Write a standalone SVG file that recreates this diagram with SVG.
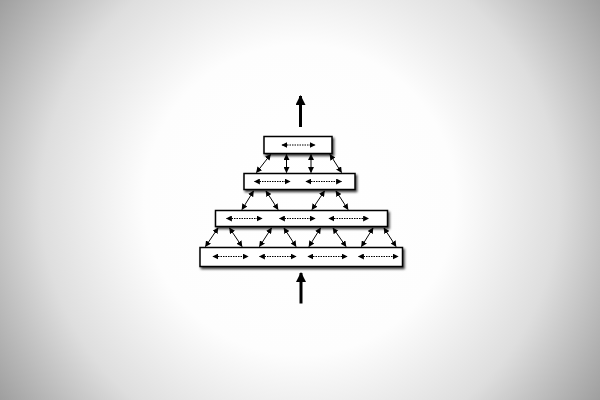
<svg xmlns="http://www.w3.org/2000/svg" width="600" height="400" viewBox="0 0 600 400">
<defs>
<radialGradient id="bg" gradientUnits="userSpaceOnUse" cx="300" cy="200" r="370">
<stop offset="0" stop-color="#ffffff"/>
<stop offset="0.42" stop-color="#fdfdfd"/>
<stop offset="0.7" stop-color="#dedede"/>
<stop offset="1" stop-color="#999999"/>
</radialGradient>
<filter id="sh" x="-10%" y="-40%" width="125%" height="200%">
<feDropShadow dx="1.5" dy="2" stdDeviation="1.3" flood-color="#000" flood-opacity="0.75"/>
</filter>
<marker id="ah" viewBox="0 0 10 10" refX="9" refY="5" markerWidth="6" markerHeight="6" orient="auto-start-reverse" markerUnits="userSpaceOnUse">
<path d="M0,0 L10,5 L0,10 Z" fill="#000"/>
</marker>
<marker id="big" viewBox="0 0 10 10" refX="9" refY="5" markerWidth="10" markerHeight="10" orient="auto" markerUnits="userSpaceOnUse">
<path d="M0,0 L10,5 L0,10 Z" fill="#000"/>
</marker>
</defs>
<style>
.box{fill:#fff;stroke:#000;stroke-width:1.5;filter:url(#sh)}
.dot{stroke:#000;stroke-width:1;stroke-dasharray:1.5,1;fill:none;marker-start:url(#ah);marker-end:url(#ah)}
.c{stroke:#000;stroke-width:1;fill:none;marker-start:url(#ah);marker-end:url(#ah)}
.big{stroke:#000;stroke-width:3;fill:none;marker-end:url(#big)}
</style>
<rect width="600" height="400" fill="url(#bg)"/>

<g id="box1">
<rect class="box" x="264" y="136.5" width="68" height="17"/>
<line class="dot" x1="282" y1="145" x2="315" y2="145"/>
</g>
<g id="box2">
<rect class="box" x="244" y="173.5" width="111" height="16"/>
<line class="dot" x1="254.5" y1="181.5" x2="290" y2="181.5"/>
<line class="dot" x1="306" y1="181.5" x2="341.5" y2="181.5"/>
</g>
<g id="box3">
<rect class="box" x="215.5" y="210.5" width="172" height="16"/>
<line class="dot" x1="226.5" y1="218.5" x2="262" y2="218.5"/>
<line class="dot" x1="279.5" y1="218.5" x2="315" y2="218.5"/>
<line class="dot" x1="329" y1="218.5" x2="368.5" y2="218.5"/>
</g>
<g id="box4">
<rect class="box" x="200" y="247.5" width="202.5" height="19"/>
<line class="dot" x1="213" y1="256.5" x2="248" y2="256.5"/>
<line class="dot" x1="259.5" y1="256.5" x2="296" y2="256.5"/>
<line class="dot" x1="308" y1="256.5" x2="347" y2="256.5"/>
<line class="dot" x1="358.5" y1="256.5" x2="398" y2="256.5"/>
</g>

<g id="connectors">
<line class="big" x1="300.5" y1="127" x2="300.5" y2="96"/>
<line class="big" x1="301" y1="303.5" x2="301" y2="273"/>

<line class="c" x1="270.5" y1="154.5" x2="256.5" y2="172.5"/>
<line class="c" x1="286.5" y1="154.5" x2="286.5" y2="172.5"/>
<line class="c" x1="311" y1="154.5" x2="311" y2="172.5"/>
<line class="c" x1="330" y1="154.5" x2="341.5" y2="172.5"/>

<line class="c" x1="253.5" y1="191" x2="242" y2="209.5"/>
<line class="c" x1="266" y1="191" x2="278" y2="209.5"/>
<line class="c" x1="324.5" y1="191" x2="312" y2="209.5"/>
<line class="c" x1="336" y1="191" x2="348" y2="209.5"/>

<line class="c" x1="218" y1="228" x2="205.5" y2="246.5"/>
<line class="c" x1="229.5" y1="228" x2="242" y2="246.5"/>
<line class="c" x1="271.5" y1="228" x2="259.5" y2="246.5"/>
<line class="c" x1="284" y1="228" x2="296" y2="246.5"/>
<line class="c" x1="320.5" y1="228" x2="309" y2="246.5"/>
<line class="c" x1="333" y1="228" x2="346" y2="246.5"/>
<line class="c" x1="373" y1="228" x2="361.5" y2="246.5"/>
<line class="c" x1="384" y1="228" x2="396" y2="246.5"/>
</g>
</svg>
